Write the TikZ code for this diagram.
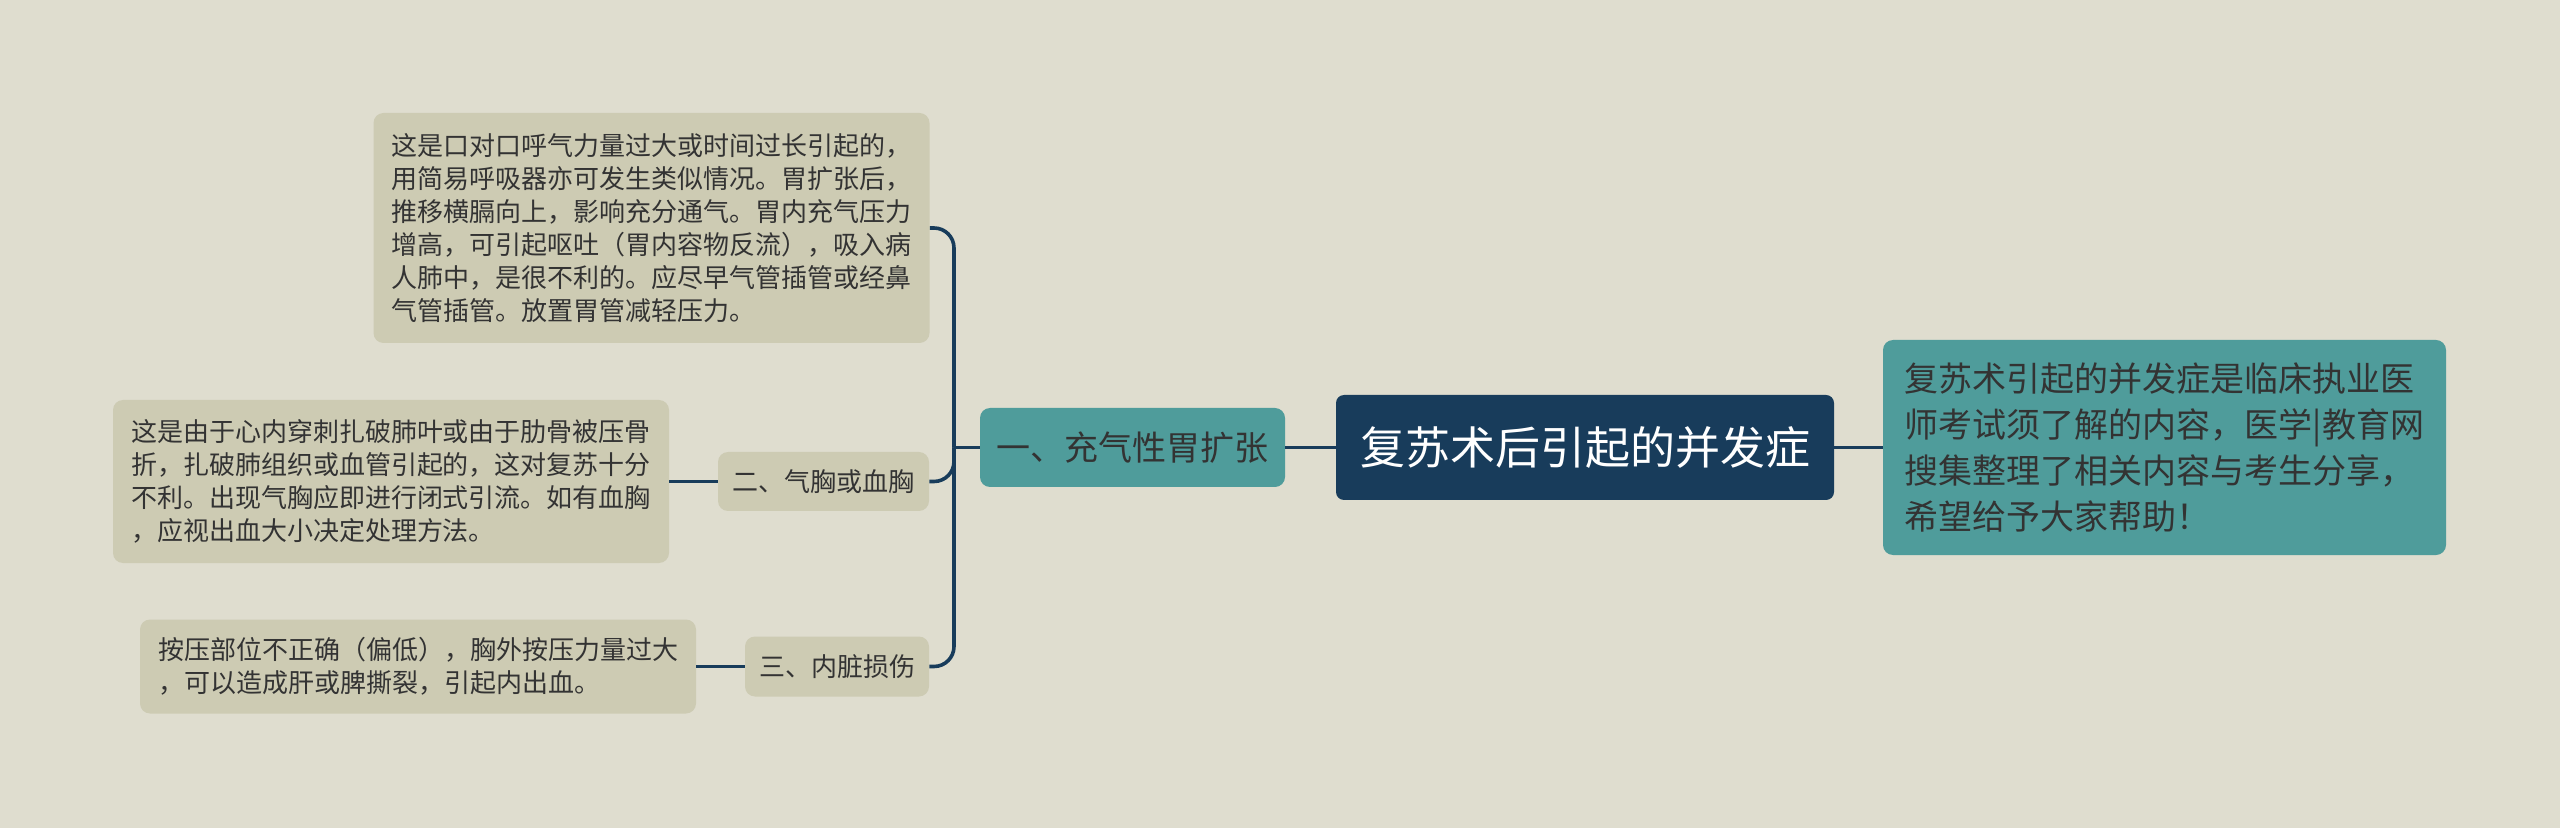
\documentclass[tikz,border=0pt]{standalone}
\usepackage{fontspec}
\setmainfont{Noto Sans CJK SC}
\usepackage{tikz}
\usetikzlibrary{positioning}
\definecolor{pageBg}{RGB}{223,221,207}
\definecolor{rootInk}{RGB}{24,60,91}
\definecolor{subBg}{RGB}{79,156,155}
\definecolor{leafBg}{RGB}{205,203,179}
\definecolor{txtInk}{RGB}{51,51,51}

\begin{document}
\begin{tikzpicture}[
  x=0.5pt, y=-0.5pt,
  root/.style ={fill=rootInk, rounded corners=4pt, text=white, align=center,
                minimum width=249pt, minimum height=52.5pt, inner sep=0pt,
                font=\fontsize{22.5pt}{27pt}\selectfont},
  sub/.style  ={fill=subBg, rounded corners=5pt, text=txtInk, align=center,
                minimum height=39.5pt, inner sep=0pt,
                font=\fontsize{17pt}{21pt}\selectfont},
  note/.style ={fill=subBg, rounded corners=5pt, text=txtInk, align=left,
                minimum width=281.5pt, minimum height=107.5pt, inner xsep=8pt,
                font=\fontsize{17pt}{23pt}\selectfont},
  tag/.style  ={fill=leafBg, rounded corners=5pt, text=txtInk, align=center,
                minimum height=30pt, inner sep=0pt,
                font=\fontsize{13pt}{16pt}\selectfont},
  leaf/.style ={fill=leafBg, rounded corners=5pt, text=txtInk, align=left,
                minimum width=278pt, inner xsep=7pt,
                font=\fontsize{13pt}{16.5pt}\selectfont},
  link/.style ={draw=rootInk, line width=1.8pt, rounded corners=10pt},
]

% ================= BACKGROUND =================
\fill[pageBg] (0,0) rectangle (2560,828);

% ================= CENTRE =================
\node[root] (main) at (1585,447.5) {复苏术后引起的并发症};
\node[note] (intro) at (2164.5,447.5)
  {复苏术引起的并发症是临床执业医\\师考试须了解的内容，医学|教育网\\搜集整理了相关内容与考生分享，\\希望给予大家帮助！};
\node[sub, minimum width=152.5pt] (gas) at (1132.5,447.5) {一、充气性胃扩张};

\draw[link] (main.east) -- (intro.west);
\draw[link] (main.west) -- (gas.east);

% ================= LEFT BRANCHES =================
\node[leaf, minimum height=115pt] (gasTxt) at (651.5,228)
  {这是口对口呼气力量过大或时间过长引起的，\\用简易呼吸器亦可发生类似情况。胃扩张后，\\推移横膈向上，影响充分通气。胃内充气压力\\增高，可引起呕吐（胃内容物反流），吸入病\\人肺中，是很不利的。应尽早气管插管或经鼻\\气管插管。放置胃管减轻压力。};
\node[tag, minimum width=105.5pt, minimum height=29.5pt] (chest) at (823.5,481.5) {二、气胸或血胸};
\node[tag, minimum width=92pt] (organ) at (837,666.5) {三、内脏损伤};

\node[leaf, minimum height=81.5pt] (chestTxt) at (391,481.5)
  {这是由于心内穿刺扎破肺叶或由于肋骨被压骨\\折，扎破肺组织或血管引起的，这对复苏十分\\不利。出现气胸应即进行闭式引流。如有血胸\\，应视出血大小决定处理方法。};
\node[leaf, minimum height=47pt] (organTxt) at (418,666.5)
  {按压部位不正确（偏低），胸外按压力量过大\\，可以造成肝或脾撕裂，引起内出血。};

\coordinate (hub) at (954,447.5);
\draw[link] (gas.west) -- (hub);
\draw[link] (hub) |- (gasTxt.east);
\draw[link] (hub) |- (chest.east);
\draw[link] (hub) |- (organ.east);
\draw[link] (chest.west) -- (chestTxt.east);
\draw[link] (organ.west) -- (organTxt.east);

\end{tikzpicture}
\end{document}
